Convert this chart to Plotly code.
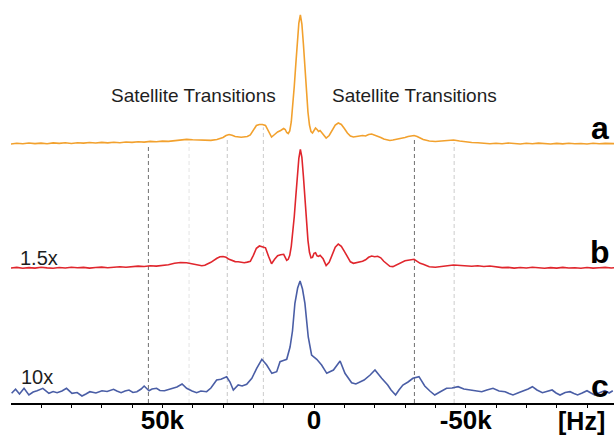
import numpy as np
import plotly.graph_objects as go

# Spectra: (frequency offset in kHz, intensity in a.u.)
SPEC_A = [
    (100, 0.0), (98, 0.8), (96, 0.3), (94, 1.0), (92, 0.4), (90, 0.9), (88, 0.2), (86, 1.1),
    (84, 0.6), (82, 1.2), (80, 0.5), (78, 1.3), (76, 0.9), (74, 1.5), (72, 1.0), (70, 1.6),
    (68, 1.1), (66, 1.8), (64, 1.3), (62, 2.0), (60, 1.6), (58, 2.2), (56, 1.9), (54, 2.6),
    (52, 2.2), (50, 2.9), (48, 2.6), (46, 3.4), (44, 3.8), (42, 4.6), (40, 4.2), (38, 3.8),
    (36, 3.3), (34, 3.6), (32, 4.5), (30, 6.5), (29, 8.5), (28, 9.5), (27, 8.8), (26, 7.5),
    (24, 6.8), (22, 7.5), (21, 9.0), (20, 14.0), (19, 18.5), (18, 19.5), (17, 19.5), (16, 18.5),
    (15, 13.0), (14, 7.0), (13, 9.5), (12, 12.0), (11, 13.5), (10.5, 14.5), (10, 15.5), (9.5, 14.5),
    (9, 11.5), (8.5, 10.5), (8, 13.0), (7.5, 22.0), (7, 38.0), (6.5, 58.0), (6, 80.0), (5.5, 102.0),
    (5, 121.0), (4.5, 129.0), (4, 120.0), (3.5, 100.0), (3, 76.0), (2.5, 52.0), (2, 32.0), (1.5, 19.0),
    (1, 12.5), (0.5, 11.0), (0, 14.0), (-0.5, 16.0), (-1, 14.5), (-1.5, 12.5), (-2, 13.5), (-3, 10.0),
    (-4, 6.0), (-5, 8.5), (-6, 14.0), (-7, 19.0), (-8, 21.0), (-9, 19.5), (-10, 15.5), (-11, 11.0),
    (-12, 8.0), (-13, 7.0), (-14, 7.5), (-15, 8.0), (-16, 8.5), (-17, 8.0), (-18, 9.5), (-19, 10.0),
    (-20, 9.0), (-21, 8.0), (-22, 6.5), (-23, 5.0), (-24, 4.0), (-25, 3.5), (-26, 4.0), (-27, 4.5),
    (-28, 5.0), (-29, 5.5), (-30, 6.5), (-31, 7.5), (-32, 8.0), (-33, 8.5), (-34, 7.5), (-35, 6.0),
    (-36, 4.5), (-38, 3.0), (-40, 2.5), (-42, 3.0), (-44, 3.5), (-46, 4.0), (-48, 3.0), (-50, 2.0),
    (-52, 1.5), (-54, 1.2), (-56, 0.6), (-58, 0.2), (-60, 0.8), (-62, 0.3), (-64, 1.0), (-66, 0.4),
    (-68, 0.0), (-70, 0.7), (-72, 0.2), (-74, 0.9), (-76, 0.3), (-78, 0.0), (-80, 0.6), (-82, 0.1),
    (-84, 0.8), (-86, 0.2), (-88, 0.5), (-90, 0.0), (-92, 0.7), (-94, 0.2), (-96, 0.6), (-98, 0.1),
    (-99, 0.4),
]

SPEC_B = [
    (100, 0.3), (98, 0.9), (96, 0.0), (94, 0.7), (92, 0.2), (90, 1.0), (88, 0.4), (86, 0.0),
    (84, 0.8), (82, 0.3), (80, 1.1), (78, 0.5), (76, 0.9), (74, 0.2), (72, 0.8), (70, 1.2),
    (68, 0.6), (66, 1.0), (64, 1.5), (62, 1.0), (60, 1.7), (58, 2.2), (56, 1.8), (54, 2.5),
    (52, 2.2), (50, 2.8), (48, 3.5), (46, 5.0), (44, 5.8), (42, 5.5), (40, 4.2), (38, 3.0),
    (37, 2.5), (36, 3.0), (34, 6.0), (32, 10.0), (31, 11.5), (30, 11.8), (29, 11.0), (28, 9.0),
    (27, 7.5), (26, 6.7), (25, 6.5), (24, 5.8), (23, 5.5), (22, 6.2), (21, 7.0), (20, 13.0),
    (19, 20.0), (18, 22.3), (17, 21.5), (16, 20.5), (15, 12.0), (14, 4.5), (13, 9.0), (12, 12.5),
    (11, 13.5), (10, 14.0), (9.5, 11.0), (9, 8.0), (8.5, 9.0), (8, 13.0), (7.5, 22.0), (7, 35.0),
    (6.5, 52.0), (6, 72.0), (5.5, 92.0), (5, 110.0), (4.5, 119.0), (4, 111.0), (3.5, 92.0), (3, 70.0),
    (2.5, 47.0), (2, 28.0), (1.5, 16.0), (1, 10.5), (0.5, 11.0), (0, 15.0), (-0.5, 15.5), (-1, 12.5),
    (-1.5, 12.0), (-2, 13.0), (-3, 9.5), (-4, 2.8), (-5, 6.0), (-6, 14.0), (-7, 21.0), (-8, 24.3),
    (-9, 22.0), (-10, 17.0), (-11, 11.0), (-12, 6.5), (-13, 5.0), (-14, 5.5), (-15, 6.0), (-16, 7.0),
    (-17, 8.5), (-18, 11.0), (-19, 12.3), (-20, 11.5), (-21, 12.0), (-22, 10.5), (-23, 7.0), (-24, 4.0),
    (-25, 2.0), (-26, 1.7), (-27, 3.0), (-28, 5.0), (-29, 6.0), (-30, 7.5), (-31, 8.0), (-32, 8.5),
    (-33, 9.0), (-34, 7.0), (-35, 5.0), (-36, 4.0), (-37, 2.5), (-38, 1.5), (-40, 1.0), (-42, 1.5),
    (-44, 2.5), (-46, 3.3), (-48, 2.8), (-50, 2.2), (-52, 2.0), (-54, 2.5), (-56, 1.8), (-58, 2.3),
    (-60, 1.5), (-62, 0.7), (-64, 0.9), (-66, 0.2), (-68, 0.8), (-70, 0.3), (-72, 1.0), (-74, 0.4),
    (-76, 0.0), (-78, 0.7), (-80, 0.2), (-82, 0.9), (-84, 0.3), (-86, 0.6), (-88, 0.0), (-90, 0.8),
    (-92, 0.2), (-94, 0.5), (-96, 0.9), (-98, 0.3), (-99, 0.6),
]

SPEC_C = [
    (99.7, 2.7), (98.4, 6.7), (97.1, 2.0), (95.6, 7.7), (94.0, 1.0), (92.6, 4.0), (91.3, 5.3),
    (89.4, 7.7), (87.4, 2.7), (86.0, 4.5), (84.7, 3.3), (83.1, 5.0), (81.6, 7.7), (79.8, 2.7),
    (78.1, 3.5), (76.5, 0.0), (75.2, 2.0), (73.9, 4.3), (71.9, 3.0), (69.9, 5.3), (68.2, 4.5),
    (66.1, 6.7), (65.0, 5.0), (63.6, 3.3), (62.3, 5.0), (61.0, 6.0), (59.7, 3.5), (58.4, 4.3),
    (57.0, 7.0), (56.0, 10.0), (54.4, 5.3), (53.4, 7.0), (51.9, 7.7), (50.8, 5.5), (49.3, 5.3),
    (48.1, 6.5), (46.8, 7.7), (45.2, 9.0), (43.5, 12.0), (42.0, 7.7), (40.2, 5.0), (38.7, 3.3),
    (37.3, 5.0), (35.4, 4.3), (34.0, 8.0), (32.1, 16.0), (30.7, 16.7), (28.8, 19.3), (27.7, 14.0),
    (26.6, 6.0), (25.0, 11.0), (23.7, 10.0), (22.2, 11.7), (20.5, 17.7), (18.9, 27.7), (17.2, 36.7),
    (15.6, 31.0), (13.9, 22.7), (12.3, 24.3), (11.2, 34.3), (10.1, 35.5), (9.0, 36.7), (7.9, 49.0),
    (7.1, 65.0), (6.3, 92.7), (5.4, 108.0), (4.6, 115.0), (3.8, 107.0), (3.0, 92.7), (1.9, 59.0),
    (0.8, 41.0), (-0.9, 36.7), (-2.5, 31.0), (-4.2, 22.7), (-6.4, 26.0), (-8.6, 35.0), (-10.2, 22.7),
    (-12.4, 13.3), (-13.8, 12.0), (-15.2, 14.3), (-16.5, 16.0), (-18.5, 21.0), (-20.1, 26.0),
    (-22.3, 17.7), (-24.3, 11.0), (-25.4, 6.0), (-26.9, 1.0), (-28.0, 6.0), (-29.3, 11.0),
    (-31.0, 14.0), (-32.6, 17.7), (-34.6, 19.3), (-36.5, 10.0), (-38.2, 5.0), (-39.8, 1.0),
    (-41.5, 4.0), (-43.7, 7.7), (-45.5, 8.0), (-47.5, 9.3), (-49.4, 7.0), (-51.4, 6.0), (-53.4, 5.0),
    (-55.3, 4.3), (-57.0, 6.0), (-59.0, 7.7), (-61.0, 5.0), (-63.0, 4.3), (-64.3, 2.5), (-65.6, 1.0),
    (-67.6, 3.5), (-69.5, 5.3), (-70.6, 7.0), (-72.0, 9.3), (-73.5, 6.0), (-75.3, 3.3), (-76.8, 4.5),
    (-78.5, 6.0), (-79.8, 3.0), (-81.1, 1.0), (-82.8, 3.5), (-84.4, 4.3), (-85.7, 2.5), (-86.9, 1.0),
    (-88.4, 3.0), (-90.0, 5.3), (-91.3, 3.0), (-92.6, 1.0), (-94.3, 3.5), (-95.9, 5.3), (-97.3, 3.0),
    (-98.5, 5.3),
]

# Reference frequencies (kHz) marked with dashed guide lines
GUIDE_KHZ = [54.6, 41.2, 28.6, 16.7, -33.1, -46.2]
GUIDE_COLORS = ["#707070", "#e4e4e4", "#c6c6c6", "#cdcdcd", "#707070", "#cccccc"]

TICK_KHZ = list(range(90, -100, -10))
TICK_LABELS = {50: "50k", 0: "0", -50: "-50k"}

# Stacking: vertical offset of each spectrum baseline and its colour
OFFSETS = {"a": 259.0, "b": 134.7, "c": 7.0}
COLORS = {"a": "#f2a12e", "b": "#e0262d", "c": "#4a5ea6"}

W, H = 614, 435
ML, MR, MT, MB = 11, 0, 0, 32
PW, PH = W - ML - MR, H - MT - MB

fig = go.Figure()

specs = {"a": SPEC_A, "b": SPEC_B, "c": SPEC_C}
for key in ["a", "b", "c"]:
    khz, inten = zip(*specs[key])
    fig.add_trace(go.Scatter(
        x=np.array(khz) * 1000.0,
        y=np.array(inten) + OFFSETS[key],
        mode="lines",
        line=dict(color=COLORS[key], width=1.6),
        hoverinfo="skip",
        showlegend=False,
    ))

# dashed guides run from the axis up to just below the top spectrum
khz_a, int_a = zip(*SPEC_A)
order = np.argsort(khz_a)
for f, col in zip(GUIDE_KHZ, GUIDE_COLORS):
    top = OFFSETS["a"] + np.interp(f, np.array(khz_a)[order], np.array(int_a)[order]) - 2.5
    fig.add_shape(type="line", x0=f * 1000, x1=f * 1000, y0=0, y1=top,
                  xref="x", yref="y", layer="below",
                  line=dict(color=col, width=1, dash="4px,3px"))


def px(xp, yp):
    return (xp - ML) / PW, (H - MB - yp) / PH


font_txt = "Liberation Sans, Arial, sans-serif"

annotations = []
for xp, yp, txt, size, bold in [
    (193, 95, "Satellite Transitions", 19, False),
    (415, 95, "Satellite Transitions", 19, False),
    (600, 128, "a", 32, True),
    (600, 252, "b", 32, True),
    (600, 386, "c", 32, True),
    (39, 258, "1.5x", 20, False),
    (37, 377, "10x", 20, False),
    (581, 421, "[Hz]", 25, True),
]:
    x, y = px(xp, yp)
    annotations.append(dict(
        x=x, y=y, xref="paper", yref="paper", text=f"<b>{txt}</b>" if bold else txt,
        showarrow=False, xanchor="center", yanchor="middle",
        font=dict(family=font_txt, size=size, color="#000000" if bold else "#1e1e1e"),
    ))

fig.update_layout(
    width=W, height=H,
    margin=dict(l=ML, r=MR, t=MT, b=MB, pad=0),
    paper_bgcolor="white", plot_bgcolor="white",
    annotations=annotations,
    xaxis=dict(
        range=[99900, -98900],
        automargin=False,
        showgrid=False, zeroline=False,
        showline=True, linecolor="black", linewidth=1.6,
        ticks="outside", ticklen=3, tickwidth=1, tickcolor="black",
        tickmode="array",
        tickvals=[k * 1000 for k in TICK_KHZ],
        ticktext=[TICK_LABELS.get(k, "") for k in TICK_KHZ],
        tickfont=dict(family=font_txt, size=26, color="black", weight="bold"),
        ticklabelstandoff=-10,
    ),
    yaxis=dict(range=[0, PH], visible=False, showgrid=False, zeroline=False, automargin=False),
)

fig.write_html("out.html")
